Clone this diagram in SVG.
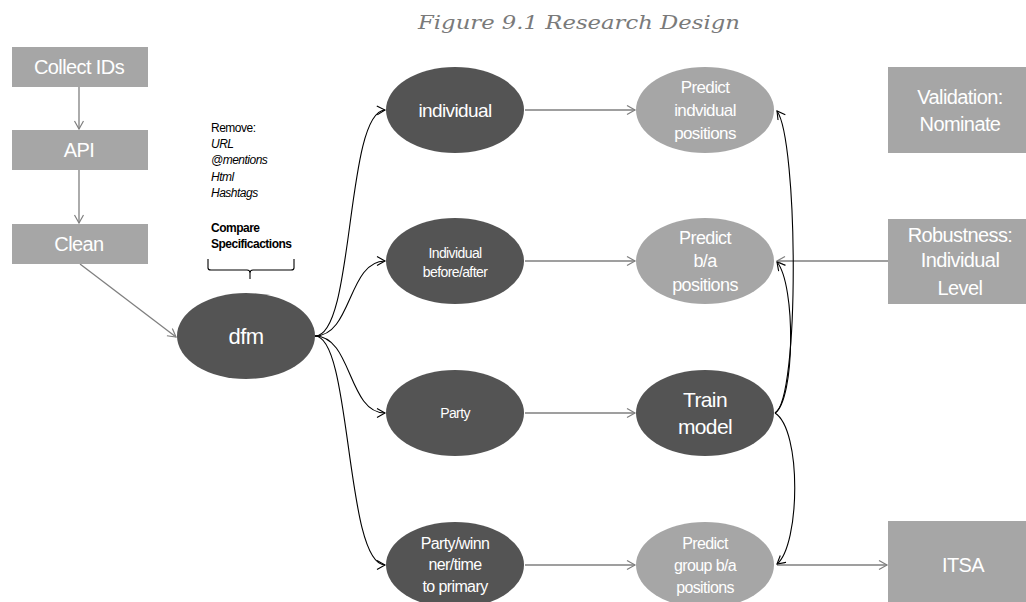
<svg xmlns="http://www.w3.org/2000/svg" width="1026" height="602" viewBox="0 0 1026 602">
<style>
.box{fill:#a6a6a6}
.dark{fill:#545454}
.light{fill:#a6a6a6}
.t{font-family:"Liberation Sans",Arial,sans-serif;fill:#ffffff;text-anchor:middle;letter-spacing:-0.6px}
.g{fill:none;stroke:#7f7f7f;stroke-width:1.3}
.k{fill:none;stroke:#000000;stroke-width:1.1}
.note{font-family:"Liberation Sans",Arial,sans-serif;font-size:12px;fill:#000;letter-spacing:-0.5px}
</style>
<defs>
<marker id="ag" markerUnits="userSpaceOnUse" markerWidth="12" markerHeight="12" refX="9" refY="5" orient="auto" viewBox="0 0 12 12">
<path d="M1,0.5 L9,5 L1,9.5" fill="none" stroke="#7f7f7f" stroke-width="1.2"/>
</marker>
<marker id="ak" markerUnits="userSpaceOnUse" markerWidth="12" markerHeight="12" refX="9" refY="5" orient="auto" viewBox="0 0 12 12">
<path d="M1,0.5 L9,5 L1,9.5" fill="none" stroke="#000" stroke-width="1.1"/>
</marker>
</defs>
<rect width="1026" height="602" fill="#fff"/>
<text x="579" y="29" font-family="DejaVu Serif,Liberation Serif,serif" font-style="italic" font-size="19" fill="#7a7a7a" text-anchor="middle" textLength="322" lengthAdjust="spacingAndGlyphs">Figure 9.1 Research Design</text>

<g id="connectors">
<line class="g" x1="79" y1="87" x2="79" y2="129" marker-end="url(#ag)"/>
<line class="g" x1="79" y1="170" x2="79" y2="223" marker-end="url(#ag)"/>
<line class="g" x1="80" y1="264" x2="176" y2="337" marker-end="url(#ag)"/>
<path class="k" d="M315,336 C355,336 345,112 385,110" marker-end="url(#ak)"/>
<path class="k" d="M315,336 C352,336 348,261 385,261" marker-end="url(#ak)"/>
<path class="k" d="M315,336 C352,336 348,413 385,413" marker-end="url(#ak)"/>
<path class="k" d="M315,336 C352,336 345,565 385,565" marker-end="url(#ak)"/>
<line class="g" x1="525" y1="110" x2="635" y2="110" marker-end="url(#ag)"/>
<line class="g" x1="525" y1="261" x2="635" y2="261" marker-end="url(#ag)"/>
<line class="g" x1="525" y1="413" x2="635" y2="413" marker-end="url(#ag)"/>
<line class="g" x1="525" y1="565" x2="635" y2="565" marker-end="url(#ag)"/>
<line class="g" x1="888" y1="261" x2="777" y2="261" marker-end="url(#ag)"/>
<line class="g" x1="777" y1="565" x2="887" y2="565" marker-end="url(#ag)"/>
<path class="k" d="M775,413 C800,400 798,140 777,111" marker-end="url(#ak)"/>
<path class="k" d="M775,413 C795,400 796,285 777,262" marker-end="url(#ak)"/>
<path class="k" d="M775,413 C802,430 800,545 777,564" marker-end="url(#ak)"/>
<path class="k" d="M208,259 L208,268 Q208,270 211,270 L247,270 Q250,270 250,273 L250,279 L250,273 Q250,270 253,270 L291,270 Q294,270 294,268 L294,259"/>
</g>

<g id="collect-ids"><rect class="box" x="12" y="47" width="136" height="40"/><text class="t" x="79" y="74" font-size="20">Collect IDs</text></g>
<g id="api"><rect class="box" x="12" y="130" width="136" height="40"/><text class="t" x="79" y="157" font-size="20">API</text></g>
<g id="clean"><rect class="box" x="12" y="224" width="136" height="40"/><text class="t" x="79" y="251" font-size="20">Clean</text></g>

<g id="remove-note">
<text class="note" x="211" y="132">Remove:</text>
<text class="note" x="211" y="148" font-style="italic">URL</text>
<text class="note" x="211" y="164" font-style="italic">@mentions</text>
<text class="note" x="211" y="181" font-style="italic">Html</text>
<text class="note" x="211" y="197" font-style="italic">Hashtags</text>
<text class="note" x="211" y="232" font-weight="bold">Compare</text>
<text class="note" x="211" y="248" font-weight="bold">Specificactions</text>
</g>

<g id="dfm"><ellipse class="dark" cx="246" cy="336" rx="69" ry="43"/><text class="t" x="246" y="344" font-size="22">dfm</text></g>

<g id="individual"><ellipse class="dark" cx="455" cy="110" rx="69" ry="43"/><text class="t" x="455" y="117" font-size="19">individual</text></g>
<g id="individual-ba"><ellipse class="dark" cx="455" cy="261" rx="69" ry="43"/><text class="t" x="455" y="258" font-size="14">Individual</text><text class="t" x="455" y="277" font-size="14">before/after</text></g>
<g id="party"><ellipse class="dark" cx="455" cy="413" rx="69" ry="43"/><text class="t" x="455" y="418" font-size="14">Party</text></g>
<g id="party-winner"><ellipse class="dark" cx="455" cy="565" rx="69" ry="43"/><text class="t" x="455" y="549" font-size="16">Party/winn</text><text class="t" x="455" y="570" font-size="16">ner/time</text><text class="t" x="455" y="592" font-size="16">to primary</text></g>

<g id="predict-individual"><ellipse class="light" cx="705" cy="110" rx="69" ry="43"/><text class="t" x="705" y="93" font-size="17">Predict</text><text class="t" x="705" y="116" font-size="17">indvidual</text><text class="t" x="705" y="139" font-size="17">positions</text></g>
<g id="predict-ba"><ellipse class="light" cx="705" cy="261" rx="69" ry="43"/><text class="t" x="705" y="244" font-size="18">Predict</text><text class="t" x="705" y="267" font-size="18">b/a</text><text class="t" x="705" y="291" font-size="18">positions</text></g>
<g id="train-model"><ellipse class="dark" cx="705" cy="413" rx="69" ry="43"/><text class="t" x="705" y="407" font-size="21">Train</text><text class="t" x="705" y="434" font-size="21">model</text></g>
<g id="predict-group"><ellipse class="light" cx="705" cy="565" rx="69" ry="43"/><text class="t" x="705" y="549" font-size="16">Predict</text><text class="t" x="705" y="571" font-size="16">group b/a</text><text class="t" x="705" y="593" font-size="16">positions</text></g>

<g id="validation"><rect class="box" x="888" y="67" width="138" height="86"/><text class="t" x="960" y="104" font-size="20">Validation:</text><text class="t" x="960" y="131" font-size="20">Nominate</text></g>
<g id="robustness"><rect class="box" x="888" y="219" width="138" height="85"/><text class="t" x="960" y="242" font-size="20">Robustness:</text><text class="t" x="960" y="267" font-size="20">Individual</text><text class="t" x="960" y="295" font-size="20">Level</text></g>
<g id="itsa"><rect class="box" x="888" y="521" width="138" height="81"/><text class="t" x="963" y="572" font-size="20">ITSA</text></g>
</svg>
